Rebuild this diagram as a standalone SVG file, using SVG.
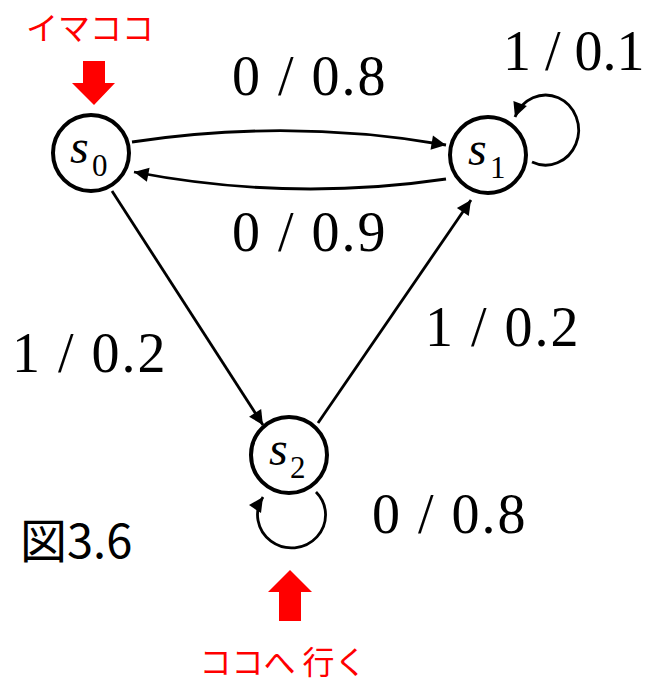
<svg xmlns="http://www.w3.org/2000/svg" width="659" height="683" viewBox="0 0 659 683">
<style>
.node{fill:#fff;stroke:#000;stroke-width:4}
.edge{fill:none;stroke:#000;stroke-width:2.8}
.lbl{font-family:"Liberation Serif",serif;font-size:56px;letter-spacing:2px;fill:#000}
.st{font-family:"Liberation Serif",serif;font-size:48px;font-style:italic;fill:#000}
.sub{font-family:"Liberation Serif",serif;font-size:31px;fill:#000}
.red{font-family:"Noto Sans CJK JP",sans-serif;font-size:32px;fill:#f00}
.fig{font-family:"Noto Sans CJK JP",sans-serif;font-size:47px;fill:#000}
</style>
<defs>
<marker id="ah" viewBox="0 0 10 10" refX="10" refY="5" markerWidth="8" markerHeight="8" markerUnits="userSpaceOnUse" orient="auto" style="overflow:visible">
<path d="M0,0 L10,5 L0,10 Z" fill="#000" transform="scale(1.8) translate(-4.5,-2.2)"/>
</marker>
</defs>
<g id="connectors">
<path class="edge" d="M132,142 Q290,118 446,145" marker-end="url(#ah)"/>
<path class="edge" d="M446,179 Q290,202 134,172" marker-end="url(#ah)"/>
<path class="edge" d="M112,191 L263,425" marker-end="url(#ah)"/>
<path class="edge" d="M318,423 L471,200" marker-end="url(#ah)"/>
<path class="edge" d="M532,162 A33,35 0 1 0 515,117" marker-end="url(#ah)"/>
<path class="edge" d="M316,492 A34,33 0 1 1 263,497" marker-end="url(#ah)"/>
</g>
<g id="s0"><circle class="node" cx="91" cy="153" r="38"/><text x="70" y="163" class="st">s</text><text x="92" y="176" class="sub">0</text></g>
<g id="s1"><circle class="node" cx="488" cy="155" r="38"/><text x="468" y="165" class="st">s</text><text x="490" y="178" class="sub">1</text></g>
<g id="s2"><circle class="node" cx="289" cy="455" r="38"/><text x="269" y="465" class="st">s</text><text x="290" y="478" class="sub">2</text></g>
<g id="labels">
<text class="lbl" x="232" y="95">0 / 0.8</text>
<text class="lbl" x="232" y="251">0 / 0.9</text>
<text class="lbl" x="503" y="70" style="letter-spacing:0">1 / 0.1</text>
<text class="lbl" x="12" y="372">1 / 0.2</text>
<text class="lbl" x="425" y="346">1 / 0.2</text>
<text class="lbl" x="372" y="533">0 / 0.8</text>
</g>
<g id="start">
<text class="red" x="90" y="40" text-anchor="middle">イマココ</text>
<path d="M83,61 H105 V83 H115 L94,105 L72,83 H83 Z" fill="#f00"/>
</g>
<g id="goal">
<path d="M290,570 L312,592 H301 V621 H279 V592 H268 Z" fill="#f00"/>
<text class="red" x="283" y="674" text-anchor="middle">ココへ 行く</text>
</g>
<text class="fig" x="20" y="558">図3.6</text>
</svg>
